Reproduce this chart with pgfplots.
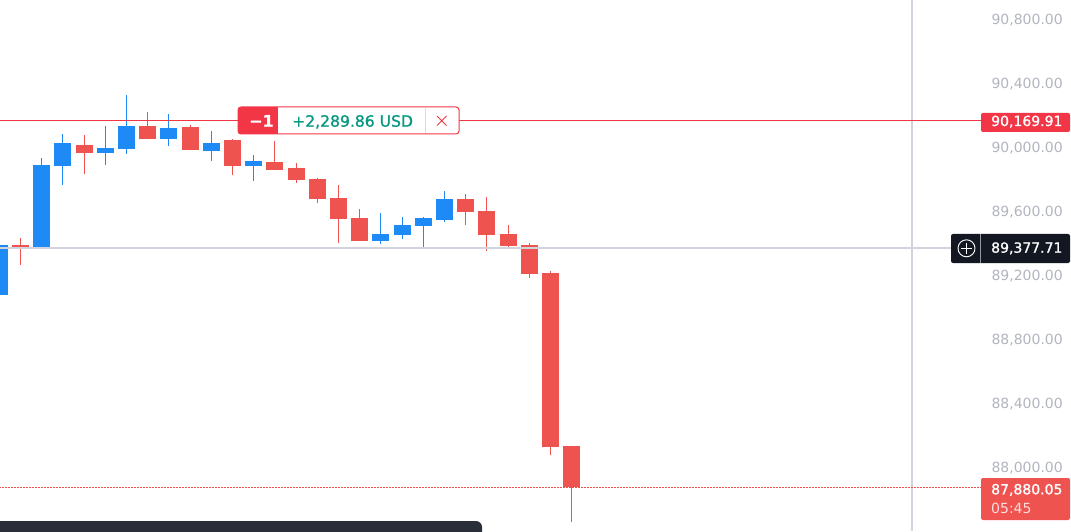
\documentclass[border=0pt]{standalone}
\usepackage{fontspec}
\setmainfont{DejaVu Sans}
\newfontfamily\lblfont[FakeBold=1.2]{DejaVu Sans}
\usepackage{pgfplots}
\pgfplotsset{compat=1.18}
\usepackage{pgfplotstable}

\definecolor{upc}{HTML}{1E8AF5}
\definecolor{dnc}{HTML}{EF5350}
\definecolor{posred}{HTML}{F23645}
\definecolor{linegray}{HTML}{D1D4DC}
\definecolor{tickgray}{HTML}{B2B5BE}
\definecolor{pnlteal}{HTML}{089981}
\definecolor{darkbox}{HTML}{131722}
\definecolor{toolbar}{HTML}{2A2E39}

% k = candle index, o h l c in USD
\pgfplotstableread{
k  o         h         l         c
0  89081.25  89400.00  89060.00  89393.75
2  89381.25  89937.50  89381.25  89893.75
3  89887.50  90087.50  89768.75  90031.25
5  89968.75  90137.50  89893.75  90000.00
6  89993.75  90331.25  89962.50  90137.50
8  90056.25  90212.50  90012.50  90125.00
10 89981.25  90106.25  89918.75  90031.25
12 89887.50  89956.25  89793.75  89918.75
18 89418.75  89593.75  89400.00  89462.50
19 89456.25  89568.75  89431.25  89518.75
20 89512.50  89568.75  89381.25  89562.50
21 89550.00  89731.25  89537.50  89681.25
}\upcandles

\pgfplotstableread{
k  o         h         l         c
1  89393.75  89437.50  89268.75  89381.25
4  90018.75  90081.25  89837.50  89968.75
7  90137.50  90225.00  90056.25  90056.25
9  90131.25  90143.75  89987.50  89987.50
11 90050.00  90056.25  89831.25  89887.50
13 89912.50  90043.75  89862.50  89862.50
14 89875.00  89906.25  89781.25  89800.00
15 89806.25  89812.50  89656.25  89681.25
16 89687.50  89768.75  89406.25  89556.25
17 89562.50  89618.75  89418.75  89418.75
22 89681.25  89712.50  89518.75  89600.00
23 89606.25  89693.75  89356.25  89456.25
24 89462.50  89518.75  89381.25  89387.50
25 89393.75  89406.25  89187.50  89212.50
26 89218.75  89231.25  88081.25  88131.25
27 88137.50  88137.50  87662.50  87880.05
}\dncandles

\begin{document}
\begin{tikzpicture}
\useasboundingbox (0,0) rectangle (1071pt,531pt);
\begin{axis}[
  at={(0pt,0pt)}, anchor=south west,
  scale only axis, width=1071pt, height=531pt,
  xmin=0.033, xmax=50.55, ymin=87606.25, ymax=90925,
  axis line style={draw=none},
  xtick=\empty,
  ytick={88000,88400,88800,89200,89600,90000,90400,90800},
  scaled y ticks=false,
  major tick length=0pt,
  yticklabel pos=right,
  yticklabel style={anchor=east, xshift=-8pt, inner sep=0pt, text=tickgray,
    font=\fontsize{14}{16}\selectfont},
  y tick label style={/pgf/number format/fixed, /pgf/number format/fixed zerofill,
    /pgf/number format/precision=2, /pgf/number format/1000 sep={,}},
  /pgf/number format/assume math mode=true,
]
% wicks
\addplot[draw=none, mark=none, forget plot,
  error bars/.cd, y dir=plus, y explicit, error mark=none,
  error bar style={draw=upc, line width=1pt}]
  table[x=k, y=l, y error expr=\thisrow{h}-\thisrow{l}] {\upcandles};
\addplot[draw=none, mark=none, forget plot,
  error bars/.cd, y dir=plus, y explicit, error mark=none,
  error bar style={draw=dnc, line width=1pt}]
  table[x=k, y=l, y error expr=\thisrow{h}-\thisrow{l}] {\dncandles};
% bodies
\addplot[draw=none, mark=none, forget plot,
  error bars/.cd, y dir=plus, y explicit, error mark=none,
  error bar style={draw=upc, line width=17pt}]
  table[x=k, y=o, y error expr=\thisrow{c}-\thisrow{o}] {\upcandles};
\addplot[draw=none, mark=none, forget plot,
  error bars/.cd, y dir=plus, y explicit, error mark=none,
  error bar style={draw=dnc, line width=17pt}]
  table[x=k, y=c, y error expr=\thisrow{o}-\thisrow{c}] {\dncandles};

% pane border
\draw[linegray, line width=2pt] (rel axis cs:0.85154,0) -- (rel axis cs:0.85154,1);
% price lines
\draw[posred, line width=1pt] (axis cs:0,90169.91) -- (axis cs:46.31,90169.91);
\draw[linegray, line width=2pt] (axis cs:0,89377.71) -- (axis cs:44.89,89377.71);
\draw[dnc, line width=1.3pt, dash pattern=on 1.3pt off 1.7pt] (axis cs:0,87880.05) -- (axis cs:46.31,87880.05);
\end{axis}

% position label
\fill[white, rounded corners=3pt] (238pt,397pt) rectangle (459pt,424pt);
\begin{scope}
  \clip[rounded corners=3pt] (238pt,397pt) rectangle (459pt,424pt);
  \fill[posred] (238pt,397pt) rectangle (278pt,424pt);
\end{scope}
\draw[posred, line width=1pt, rounded corners=3pt] (238pt,397pt) rectangle (459pt,424pt);
\draw[posred!25, line width=0.8pt] (425pt,398pt) -- (425pt,423pt);
\draw[posred, line width=1pt] (437pt,405.5pt) -- (446.5pt,415pt) (437pt,415pt) -- (446.5pt,405.5pt);
\node[anchor=base west, inner sep=0pt, text=white, font=\lblfont\fontsize{16}{18}\selectfont\bfseries] at (249pt,404.3pt) {−1};
\node[anchor=base west, inner sep=0pt, text=pnlteal, font=\lblfont\fontsize{15.6}{17}\selectfont] at (292pt,404.3pt) {+2,289.86 USD};

% price scale labels
\fill[posred, rounded corners=2pt] (981pt,399pt) rectangle (1070pt,418pt);
\node[anchor=base west, inner sep=0pt, text=white, font=\lblfont\fontsize{14}{16}\selectfont] at (991pt,405pt) {90,169.91};

\fill[darkbox, rounded corners=2pt] (951pt,268pt) rectangle (1070pt,297pt);
\draw[white!55!darkbox, line width=0.8pt] (980.5pt,268pt) -- (980.5pt,297pt);
\draw[white, line width=0.9pt] (966.5pt,282.7pt) circle (8.5pt);
\draw[white, line width=0.9pt] (961pt,282.7pt) -- (972pt,282.7pt) (966.5pt,277.2pt) -- (966.5pt,288.2pt);
\node[anchor=base west, inner sep=0pt, text=white, font=\lblfont\fontsize{14}{16}\selectfont] at (991pt,278.3pt) {89,377.71};

\fill[dnc, rounded corners=2pt] (981pt,11pt) rectangle (1070pt,53pt);
\node[anchor=base west, inner sep=0pt, text=white, font=\lblfont\fontsize{14}{16}\selectfont] at (991pt,36.7pt) {87,880.05};
\node[anchor=base west, inner sep=0pt, text=white!80!dnc, font=\fontsize{14}{16}\selectfont] at (991pt,17.7pt) {05:45};

% bottom toolbar
\fill[toolbar, rounded corners=6pt] (-10pt,-10pt) rectangle (482pt,10pt);
\end{tikzpicture}
\end{document}
